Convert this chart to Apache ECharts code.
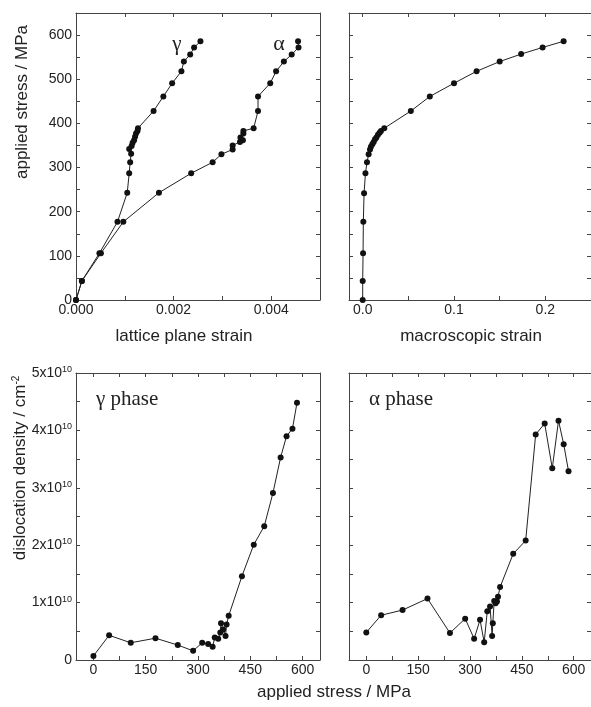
<!DOCTYPE html>
<html><head><meta charset="utf-8">
<script src="https://cdn.jsdelivr.net/npm/echarts@6/dist/echarts.min.js"></script>
<style>html,body{margin:0;padding:0;background:#fff}#c{width:591px;height:707px}</style>
</head><body><div id="c"></div>
<script>
// ---- data ----
const gammaStress = [0,43,106,177,243,287,312,331,342,349,356,362,370,377,383,389,428,461,491,518,540,556,572,586];
const gammaStrain = [0,0.00012,0.00048,0.00085,0.00105,0.00109,0.00111,0.00113,0.00109,0.00114,0.00116,0.00119,0.00121,0.00123,0.00126,0.00127,0.00159,0.00179,0.00197,0.00216,0.00221,0.00234,0.00242,0.00255];
const alphaStress = [0,43,106,177,243,287,312,330,341,350,358,362,368,377,383,389,428,461,491,518,540,556,572,586];
const alphaStrain = [0,0.00012,0.00051,0.00097,0.0017,0.00236,0.0028,0.00298,0.00321,0.00321,0.00336,0.00342,0.00337,0.00343,0.00343,0.00364,0.00373,0.00373,0.00398,0.0041,0.00426,0.00442,0.00456,0.00455];
const macroStress = [0,43,106,177,242,287,312,330,341,347,353,358,364,368,374,379,383,389,428,461,491,518,540,557,572,586];
const macroStrain = [0,0,0.0004,0.0007,0.0015,0.003,0.0047,0.0065,0.008,0.009,0.0105,0.012,0.0135,0.015,0.0167,0.0185,0.020,0.0236,0.0527,0.0735,0.100,0.1247,0.150,0.1735,0.197,0.220];
const gammaDisStress = [0,45,107,178,242,286,312,329,342,348,358,364,366,372,379,382,388,426,460,490,515,537,554,571,584];
const gammaDis = [0.07e10,0.43e10,0.30e10,0.38e10,0.26e10,0.16e10,0.30e10,0.28e10,0.23e10,0.39e10,0.37e10,0.48e10,0.64e10,0.53e10,0.42e10,0.62e10,0.77e10,1.46e10,2.01e10,2.33e10,2.91e10,3.53e10,3.90e10,4.03e10,4.48e10];
const alphaDisStress = [0,43,105,177,242,286,312,329,341,350,358,364,366,370,374,378,381,387,425,461,490,516,538,556,571,585];
const alphaDis = [0.48e10,0.78e10,0.87e10,1.07e10,0.47e10,0.72e10,0.37e10,0.70e10,0.31e10,0.85e10,0.93e10,0.42e10,0.64e10,1.03e10,0.99e10,1.02e10,1.10e10,1.27e10,1.85e10,2.08e10,3.93e10,4.12e10,3.34e10,4.17e10,3.76e10,3.29e10];

// ---- tick labels ----
const stressLabels = [0,100,200,300,400,500,600];
const stressTicks = [0,50,100,150,200,250,300,350,400,450,500,550,600,650];
const latticeLabels = [0,0.002,0.004];
const latticeTicks = [0,0.001,0.002,0.003,0.004,0.005];
const macroLabels = [0,0.1,0.2];
const macroTicks = [0,0.05,0.1,0.15,0.2];
const appliedLabels = [0,150,300,450,600];
const appliedTicks = [0,75,150,225,300,375,450,525,600];
const disLabels = [0,1e10,2e10,3e10,4e10,5e10];
const disTicks = [0,0.5e10,1e10,1.5e10,2e10,2.5e10,3e10,3.5e10,4e10,4.5e10,5e10];

const SANS = '"Liberation Sans", Arial, sans-serif';
const SERIF = '"Liberation Serif", "Times New Roman", serif';
const AX = '#444';

function axis(grid, pos, min, max, labels, ticks, showLabel, fmt, margin) {
  return {
    type: 'value', gridIndex: grid, position: pos, min: min, max: max,
    axisLine: {show: true, onZero: false, lineStyle: {color: AX, width: 1}},
    axisTick: {show: true, inside: true, length: 4, customValues: ticks, lineStyle: {color: AX, width: 1}},
    axisLabel: {show: showLabel, customValues: labels, margin: margin || 4, fontSize: 14,
      color: '#222', fontFamily: SANS, formatter: fmt,
      rich: {s: {fontSize: 9, fontFamily: SANS, color: '#222', verticalAlign: 'top', padding: [0,0,7,0]}}},
    splitLine: {show: false}
  };
}
const f3 = v => v.toFixed(3);
const f1 = v => v.toFixed(1);
const fi = v => String(Math.round(v));
const fdis = v => v === 0 ? '0' : (Math.round(v/1e10) + 'x10{s|10}');

const grids = [
  {left: 76, top: 13, width: 244, height: 287},
  {left: 349, top: 13, width: 243, height: 287},
  {left: 76, top: 373, width: 244, height: 287},
  {left: 349, top: 373, width: 243, height: 287}
];

const xAxes = [
  axis(0,'bottom',0,0.005,latticeLabels,latticeTicks,true,f3,3),
  axis(1,'bottom',-0.015,0.25,macroLabels,macroTicks,true,f1,3),
  axis(2,'bottom',-50,650,appliedLabels,appliedTicks,true,fi,3),
  axis(3,'bottom',-50,650,appliedLabels,appliedTicks,true,fi,3),
  axis(0,'top',0,0.005,latticeLabels,latticeTicks,false,f3),
  axis(1,'top',-0.015,0.25,macroLabels,macroTicks,false,f1),
  axis(2,'top',-50,650,appliedLabels,appliedTicks,false,fi),
  axis(3,'top',-50,650,appliedLabels,appliedTicks,false,fi)
];
const yAxes = [
  axis(0,'left',0,650,stressLabels,stressTicks,true,fi,4),
  axis(1,'left',0,650,stressLabels,stressTicks,false,fi),
  axis(2,'left',0,5e10,disLabels,disTicks,true,fdis,4),
  axis(3,'left',0,5e10,disLabels,disTicks,false,fdis),
  axis(0,'right',0,650,stressLabels,stressTicks,false,fi),
  axis(1,'right',0,650,stressLabels,stressTicks,false,fi),
  axis(2,'right',0,5e10,disLabels,disTicks,false,fdis),
  axis(3,'right',0,5e10,disLabels,disTicks,false,fdis)
];

const zip = (xs, ys) => xs.map((x, i) => [x, ys[i]]);
function line(idx, data) {
  return {type: 'line', xAxisIndex: idx, yAxisIndex: idx, data: data, symbol: 'circle', symbolSize: 6,
    itemStyle: {color: '#111'}, lineStyle: {color: '#222', width: 1}, animation: false, silent: true};
}

const txt = (x, y, text, o) => Object.assign({type: 'text', x: x, y: y, silent: true,
  style: Object.assign({text: text, fill: '#222', fontFamily: SANS, fontSize: 17, align: 'center', verticalAlign: 'middle'}, o || {})});

const chart = echarts.init(document.getElementById('c'), null, {renderer: 'canvas'});
chart.setOption({
  backgroundColor: '#fff',
  animation: false,
  grid: grids,
  xAxis: xAxes,
  yAxis: yAxes,
  series: [
    line(0, zip(gammaStrain, gammaStress)),
    line(0, zip(alphaStrain, alphaStress)),
    line(1, zip(macroStrain, macroStress)),
    line(2, zip(gammaDisStress, gammaDis)),
    line(3, zip(alphaDisStress, alphaDis))
  ],
  graphic: [
    Object.assign(txt(22, 102, 'applied stress / MPa'), {rotation: Math.PI/2}),
    Object.assign(txt(20, 468, 'dislocation density / cm{s|-2}', {rich: {s: {fontSize: 10, fontFamily: SANS, fill: '#222', verticalAlign: 'top', padding: [0,0,8,0]}}}), {rotation: Math.PI/2}),
    txt(184, 336, 'lattice plane strain'),
    txt(471, 336, 'macroscopic strain'),
    txt(334, 692, 'applied stress / MPa'),
    txt(177, 44, 'γ', {fontFamily: SERIF, fontSize: 21}),
    txt(279, 44, 'α', {fontFamily: SERIF, fontSize: 22}),
    txt(96, 399, 'γ phase', {fontFamily: SERIF, fontSize: 21, align: 'left'}),
    txt(369, 399, 'α phase', {fontFamily: SERIF, fontSize: 21, align: 'left'})
  ]
});
</script></body></html>
